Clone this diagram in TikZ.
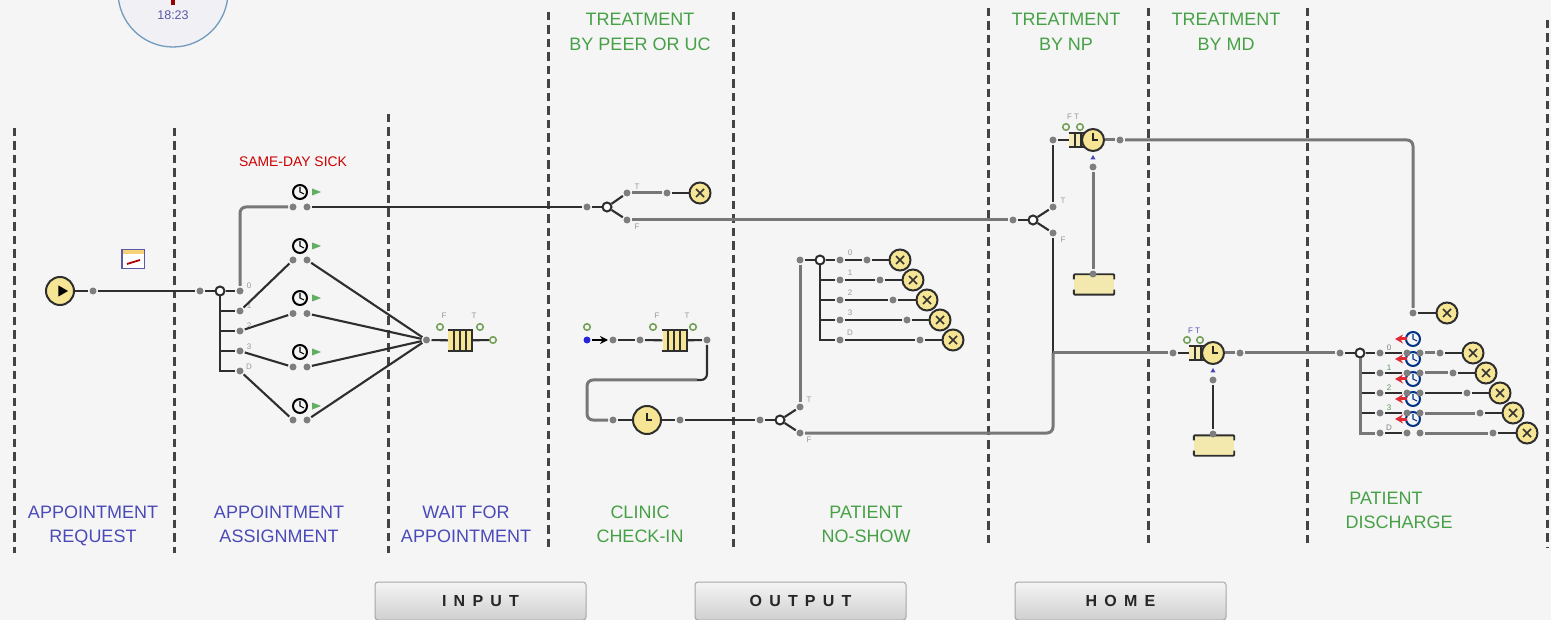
\documentclass[tikz,border=0pt]{standalone}
\usepackage{fontspec}
\setmainfont{Liberation Sans}
\newfontfamily\btnfont[LetterSpace=45]{Liberation Sans}
\usetikzlibrary{arrows.meta,shapes.geometric,calc}
\definecolor{bgc}{HTML}{F5F5F5}
\definecolor{yel}{HTML}{F5E594}
\definecolor{yelres}{HTML}{F3E9AE}
\definecolor{blu}{HTML}{4A4AB8}
\definecolor{grn}{HTML}{46A046}
\definecolor{dk}{HTML}{2E2E2E}
\definecolor{gy}{HTML}{777777}
\definecolor{dotc}{HTML}{7E7E7E}
\definecolor{ring}{HTML}{6F9BBF}
\definecolor{olv}{HTML}{76A05A}
\definecolor{arw}{HTML}{E02B35}
\tikzset{
 px/.style={x=1pt,y=-1pt},
 dotn/.style={circle,fill=dotc,inner sep=0pt,minimum size=7pt,outer sep=1.5pt},
 gate/.style={circle,draw=dk,fill=white,line width=2pt,inner sep=0pt,minimum size=9pt},
 thinc/.style={draw=dk,line width=2.1pt,rounded corners=6pt},
 trunk/.style={draw=dk,line width=2.4pt},
 thickc/.style={draw=gy,line width=3pt,rounded corners=6pt},
 dashc/.style={draw=dk!90,line width=3pt,dash pattern=on 8.5pt off 5pt},
 exitn/.style={circle,draw=dk,fill=yel,line width=2pt,inner sep=0pt,minimum size=21pt,
   path picture={\draw[line width=1.6pt,draw=black!80]
     ([shift={(-4pt,-4pt)}]path picture bounding box.center)--([shift={(4pt,4pt)}]path picture bounding box.center)
     ([shift={(-4pt,4pt)}]path picture bounding box.center)--([shift={(4pt,-4pt)}]path picture bounding box.center);}},
 timern/.style={circle,draw=dk,fill=yel,line width=2pt,inner sep=0pt,minimum size=#1,
   path picture={\draw[line width=1.6pt,draw=black!85]
     ([shift={(0pt,7pt)}]path picture bounding box.center)--(path picture bounding box.center)--([shift={(5pt,0pt)}]path picture bounding box.center);}},
 clockn/.style={circle,draw=#1,fill=bgc,line width=2pt,inner sep=0pt,minimum size=14pt,
   path picture={\draw[line width=1.1pt,draw=#1]
     ([shift={(0pt,5pt)}]path picture bounding box.center)--(path picture bounding box.center)--([shift={(4pt,-2pt)}]path picture bounding box.center);}},
 gtri/.style={isosceles triangle,isosceles triangle stretches,fill=grn!85,inner sep=0pt,minimum width=7pt,minimum height=9pt},
 smallg/.style={circle,draw=olv,fill=bgc,line width=1.6pt,inner sep=0pt,minimum size=6.5pt},
 qbox/.style={rectangle,fill=yel,inner sep=0pt,minimum width=24pt,minimum height=20pt},
 resn/.style={rectangle,fill=yelres,inner sep=0pt,minimum width=40pt,minimum height=20pt},
 holdn/.style={rectangle,fill=yel!70!bgc,inner sep=0pt,minimum width=12pt,minimum height=14pt},
 bluet/.style={font=\fontsize{18}{20}\selectfont,text=blu,inner sep=0pt,text height=13pt,text depth=0pt},
 greent/.style={font=\fontsize{18}{20}\selectfont,text=grn,inner sep=0pt,text height=13pt,text depth=0pt},
 tinyl/.style={font=\fontsize{8}{8}\selectfont,text=gray!80,inner sep=0pt},
 btn/.style={rectangle,rounded corners=3pt,draw=gray!70,top color=gray!8,bottom color=gray!38,line width=1pt,
   minimum width=211pt,minimum height=38pt,inner sep=0pt,font=\btnfont\bfseries\fontsize{16}{18}\selectfont,text=black!85},
}
\newcommand{\queuelines}[1]{%
 \draw[draw=dk,line width=1.8pt] (#1.north west)--(#1.north east)--(#1.south east)--(#1.south west);
 \foreach \d in {6,12,18} \draw[draw=dk,line width=2pt] ($(#1.north west)+(\d pt,0)$)--($(#1.south west)+(\d pt,0)$);}
\newcommand{\reslines}[1]{%
 \draw[draw=dk,line width=1.9pt,rounded corners=1pt] ($(#1.north west)+(0,-5pt)$)--(#1.north west)--(#1.north east)--($(#1.north east)+(0,-5pt)$);
 \draw[draw=dk,line width=1.9pt,rounded corners=1pt] ($(#1.south west)+(0,5pt)$)--(#1.south west)--(#1.south east)--($(#1.south east)+(0,5pt)$);}
\newcommand{\holdlines}[1]{%
 \draw[draw=dk,line width=2pt] (#1.north west)--($(#1.north east)+(3pt,0)$);
 \draw[draw=dk,line width=2pt] (#1.south west)--($(#1.south east)+(3pt,0)$);
 \draw[draw=dk,line width=2pt] ($(#1.north west)+(6pt,0)$)--($(#1.south west)+(6pt,0)$);
 \draw[draw=dk,line width=2pt] (#1.north east)--(#1.south east);}
\begin{document}
\begin{tikzpicture}[px]
\useasboundingbox (0,0) rectangle (1551,620);
\fill[bgc] (0,0) rectangle (1551,620);
\begin{scope}
\clip (0,0) rectangle (1551,620);
% clock face
\node[circle,draw=ring,fill=blue!2!bgc,line width=1.3pt,minimum size=110pt,inner sep=0pt] (face) at (173,-8) {};
\coordinate (handtop) at (173,-5);
\coordinate (handbot) at (173,5);
\draw[draw=red!60!black,line width=3.5pt] (handtop)--(handbot);
\node[font=\fontsize{12.5}{14}\selectfont,text=blue!30!gray,inner sep=0pt] (faceclock) at (173,15.5) {18:23};
% dashed lanes
\foreach \n/\x/\t/\b in {a/14/128/553,b/174/128/553,c/388/114/553,d/548/12/548,e/733/12/548,f/988/8/547,g/1148/8/547,h/1307/8/547,i/1547/20/547}{
 \coordinate (l\n t) at (\x,\t);
 \coordinate (l\n b) at (\x,\b);
 \draw[dashc] (l\n t)--(l\n b);
}
% input part
\node[circle,draw=dk,fill=yel,line width=2pt,inner sep=0pt,minimum size=28pt] (start) at (60,291) {};
\node[regular polygon,regular polygon sides=3,shape border rotate=-90,fill=black,inner sep=0pt,minimum size=13pt] (playmark) at (61.5,291) {};
\node[rectangle,fill=white,minimum width=22pt,minimum height=19pt,inner sep=0pt] (icon) at (133,259) {};
\fill[yel!80!orange] (icon.north west) rectangle ($(icon.north east)+(0,-5pt)$);
\draw[draw=blue!30!gray,line width=1.4pt] (icon.north west) rectangle (icon.south east);
\coordinate (iconl) at (127,264);
\coordinate (iconr) at (140,260);
\draw[draw=red!70!black,line width=1.8pt] (iconl)--(iconr);
\node[dotn] (p1) at (93,291) {};
\node[dotn] (p2) at (200,291) {};
\node[gate] (g1) at (220,291) {};
\foreach \i/\y in {0/291,1/311,2/331,3/351,4/371} \node[dotn] (r\i) at (240,\y) {};
\foreach \i/\y/\c in {0/207/192,1/260/246,2/313.5/298,3/367/352,4/420/406}{
 \node[dotn] (ta\i) at (293,\y) {};
 \node[dotn] (tb\i) at (307,\y) {};
 \node[clockn=black] (tc\i) at (300,\c) {};
 \node[gtri] (tg\i) at (314.5,\c) {};
}
\node[dotn] (q1in) at (426.5,340) {};
\node[qbox] (q1) at (460,340.5) {};
\queuelines{q1}
\node[smallg] (q1out) at (493,340) {};
\node[smallg] (q1f) at (440,327) {};
\node[smallg] (q1t) at (480,327) {};
\node[tinyl] at (444,316) {F};
\node[tinyl] at (474,316) {T};
\foreach \t/\y in {0/286,1/306,2/326,3/347,D/367} \node[tinyl] at (249,\y) {\t};
\draw[thinc] (start)--(p1);
\draw[thinc] (p1)--(p2);
\draw[thinc] (p2)--(g1);
\draw[thinc] (g1)--(r0);
\foreach \i in {1,...,4} \draw[trunk] (g1.south) |- (r\i);
\draw[thickc] (r0) |- (ta0);
\draw[thinc] (r1)--(ta1);
\draw[thinc] (r2)--(ta2);
\draw[thinc] (r3)--(ta3);
\draw[thinc] (r4)--(ta4);
\foreach \i in {1,...,4} \draw[thinc] (tb\i)--(q1in);
\draw[thinc] (q1in)--(q1);
\draw[thinc] (q1)--(q1out);
% treatment by peer
\node[dotn] (p3) at (587,207) {};
\node[gate] (g2) at (607,207) {};
\node[dotn] (g2t) at (627,193) {};
\node[dotn] (g2f) at (627,220) {};
\node[dotn] (p4) at (667,193) {};
\node[exitn] (x0) at (700,193) {};
\node[tinyl] at (637,187) {T};
\node[tinyl] at (637,227) {F};
\draw[thinc] (tb0)--(p3);
\draw[thinc] (p3)--(g2);
\draw[thinc] (g2)--(g2t);
\draw[thinc] (g2)--(g2f);
\draw[thickc] (g2t)--(p4);
\draw[thinc] (p4)--(x0);
% check-in
\node[dotn,fill=blue!70!gray,minimum size=7pt] (src) at (587,340) {};
\node[smallg] (srcg) at (587,327) {};
\node[dotn] (c1) at (613,340) {};
\node[dotn] (c2) at (640,340) {};
\node[qbox] (q2) at (674.5,340.5) {};
\queuelines{q2}
\node[smallg] (q2f) at (653,327) {};
\node[smallg] (q2t) at (693,327) {};
\node[tinyl] at (657,316) {F};
\node[tinyl] at (687,316) {T};
\node[dotn] (c3) at (707,340) {};
\coordinate (bendr) at (697,380);
\coordinate (bendl) at (587,380);
\node[dotn] (c4) at (613,420) {};
\node[timern=28pt] (t1) at (647,420) {};
\node[dotn] (c5) at (680,420) {};
\node[dotn] (c6) at (760,420) {};
\node[gate] (g3) at (780,420) {};
\node[dotn] (g3t) at (800,407) {};
\node[dotn] (g3f) at (800,433) {};
\node[tinyl] at (809,400) {T};
\node[tinyl] at (809,440) {F};
\draw[-{Stealth[length=8pt,width=8pt]},draw=black,line width=1.8pt] (src)--(c1);
\draw[thinc] (c1)--(c2);
\draw[thinc] (c2)--(q2);
\draw[thinc] (q2)--(c3);
\draw[thickc] (bendr) -- (bendl) |- (c4);
\draw[thinc] (c3) |- (bendr);
\draw[thinc] (c4)--(t1);
\draw[thinc] (t1)--(c5);
\draw[thinc] (c5)--(c6);
\draw[thinc] (c6)--(g3);
\draw[thinc] (g3)--(g3t);
\draw[thinc] (g3)--(g3f);
% no-show
\node[dotn] (n0) at (800,260) {};
\node[gate] (g4) at (820,260) {};
\foreach \i/\y/\a/\b in {0/260/867/900,1/280/880/913,2/300/893/927,3/320/907/940,4/340/920/953}{
 \node[dotn] (na\i) at (840,\y) {};
 \node[dotn] (nb\i) at (\a,\y) {};
 \node[exitn] (nx\i) at (\b,\y) {};
 \draw[thinc] (na\i)--(nb\i);
 \draw[thinc] (nb\i)--(nx\i);
}
\foreach \t/\y in {0/253,1/273,2/293,3/313,D/333} \node[tinyl] at (850,\y) {\t};
\draw[thickc] (g3t)--(n0);
\draw[thinc] (n0)--(g4);
\draw[thinc] (g4)--(na0);
\foreach \i in {1,...,4} \draw[trunk] (g4.south) |- (na\i);
% NP
\node[dotn] (p5) at (1013,220) {};
\node[gate] (g5) at (1033,220) {};
\node[dotn] (g5t) at (1053,207) {};
\node[dotn] (g5f) at (1053,233) {};
\node[tinyl] at (1063,201) {T};
\node[tinyl] at (1063,240) {F};
\node[dotn] (n1) at (1053,140) {};
\node[holdn] (h1) at (1075,140) {};
\holdlines{h1}
\node[timern=22pt] (t2) at (1093,140) {};
\node[smallg] (h1f) at (1066,127) {};
\node[smallg] (h1t) at (1080,127) {};
\node[tinyl] at (1073,117) {F T};
\node[dotn] (n2) at (1120,140) {};
\node[dotn] (n3) at (1093,167) {};
\node[regular polygon,regular polygon sides=3,fill=blue!45!gray,inner sep=0pt,minimum size=6pt] (n3t) at (1093,158) {};
\node[resn] (res1) at (1094,284.5) {};
\reslines{res1}
\node[dotn] (n4) at (1093,274) {};
\node[dotn] (n5) at (1413,313) {};
\node[exitn] (x1) at (1447,313) {};
\draw[thickc] (g2f)--(p5);
\draw[thinc] (p5)--(g5);
\draw[thinc] (g5)--(g5t);
\draw[thinc] (g5)--(g5f);
\draw[thinc] (g5t)--(n1);
\draw[thinc] (n1)--(h1);
\draw[thickc] (t2)--(n2);
\draw[thickc] (n2) -| (n5);
\draw[thinc] (n5)--(x1);
\draw[thickc] (n3)--(n4);
% MD
\node[dotn] (m1) at (1173,353) {};
\node[holdn] (h2) at (1195,353) {};
\holdlines{h2}
\node[timern=22pt] (t3) at (1213,353) {};
\node[smallg] (h2f) at (1187,340) {};
\node[smallg] (h2t) at (1200,340) {};
\node[tinyl,text=blue!40!gray] at (1194,331) {F T};
\node[dotn] (m2) at (1240,353) {};
\node[dotn] (m3) at (1213,380) {};
\node[regular polygon,regular polygon sides=3,fill=blue!45!gray,inner sep=0pt,minimum size=6pt] (m3t) at (1213,371) {};
\node[resn] (res2) at (1214,445.5) {};
\reslines{res2}
\node[dotn] (m4) at (1213,434) {};
\coordinate (mj) at (1053,353);
\draw[thinc] (g5f)--(mj);
\draw[thickc] (g3f) -| (mj);
\draw[thickc] (mj)--(m1);
\draw[thinc] (m1)--(h2);
\draw[thickc] (t3)--(m2);
\draw[thinc] (m3)--(m4);
% discharge
\node[dotn] (d0) at (1340,353) {};
\node[gate] (g6) at (1360,353) {};
\draw[thickc] (m2)--(d0);
\draw[thinc] (d0)--(g6);
\foreach \y in {339,359,379,399,419}{
 \node[clockn={blue!40!black!80!cyan}] (cl\y) at (1413,\y) {};
 \coordinate (ca\y) at (1407,\y);
 \coordinate (cb\y) at (1395,\y);
 \draw[-{Stealth[length=8pt,width=9pt]},draw=arw,line width=3pt] (ca\y)--(cb\y);
}
\foreach \i/\y/\a/\b/\s in {0/353/1440/1473/thickc,1/373/1453/1486/thickc,2/393/1467/1500/thinc,3/413/1480/1513/thickc,4/433/1493/1527/thickc}{
 \node[dotn] (da\i) at (1380,\y) {};
 \node[dotn] (db\i) at (1407,\y) {};
 \node[dotn] (dc\i) at (1420,\y) {};
 \node[dotn] (dd\i) at (\a,\y) {};
 \node[exitn] (dx\i) at (\b,\y) {};
 \draw[thinc] (da\i)--(db\i);
 \draw[\s] (dc\i)--(dd\i);
 \draw[thinc] (dd\i)--(dx\i);
}
\foreach \t/\y/\c in {0/348/gray,1/368/grn!60!gray,2/388/grn!60!gray,3/408/grn!60!gray,D/428/gray} \node[tinyl,text=\c] at (1389,\y) {\t};
\draw[thinc] (g6)--(da0);
\draw[trunk] (g6.south) |- (da1);
\draw[trunk] (g6.south) |- (da2);
\draw[trunk] (g6.south) |- (da3);
\draw[trunk,draw=gy,line width=3pt] (g6.south) |- (da4);
% texts
\node[font=\fontsize{13.9}{15}\selectfont,text=red!80!black,inner sep=0pt] (sick) at (293,162) {SAME-DAY SICK};
\node[bluet] at (93,512) {APPOINTMENT};
\node[bluet] at (93,536) {REQUEST};
\node[bluet] at (279,512) {APPOINTMENT};
\node[bluet] at (279,536) {ASSIGNMENT};
\node[bluet] at (466,512) {WAIT FOR};
\node[bluet] at (466,536) {APPOINTMENT};
\node[greent] at (640,512) {CLINIC};
\node[greent] at (640,536) {CHECK-IN};
\node[greent] at (866,512) {PATIENT};
\node[greent] at (866,536) {NO-SHOW};
\node[greent] at (1386,498) {PATIENT};
\node[greent] at (1399,522) {DISCHARGE};
\node[greent] at (640,19) {TREATMENT};
\node[greent] at (640,44) {BY PEER OR UC};
\node[greent] at (1066,19) {TREATMENT};
\node[greent] at (1066,44) {BY NP};
\node[greent] at (1226,19) {TREATMENT};
\node[greent] at (1226,44) {BY MD};
% buttons
\node[btn] (binput) at (480.5,601) {INPUT};
\node[btn] (boutput) at (800.5,601) {OUTPUT};
\node[btn] (bhome) at (1120.5,601) {HOME};
\end{scope}
\end{tikzpicture}
\end{document}
